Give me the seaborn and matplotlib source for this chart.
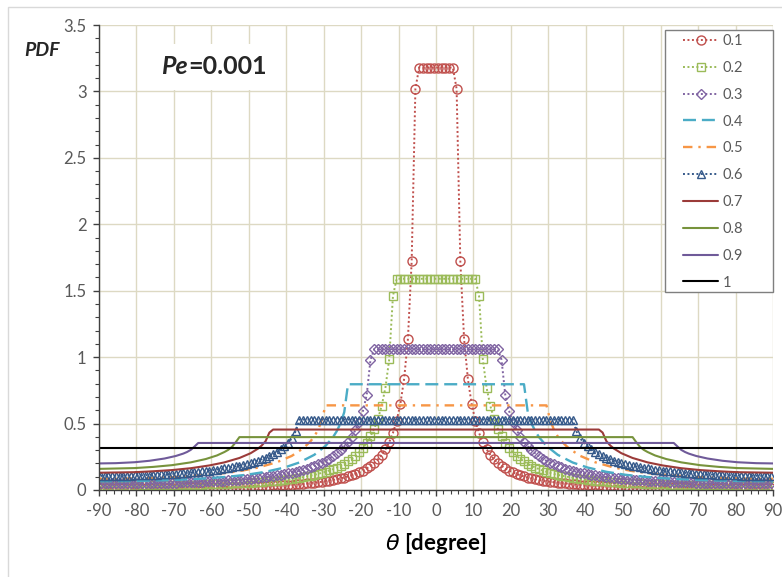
import numpy as np
import pandas as pd
import seaborn as sns
import matplotlib.pyplot as plt
from matplotlib.patches import Rectangle
from matplotlib.ticker import MultipleLocator, FormatStrFormatter

# half profiles (theta >= 0), the chart is symmetric about 0
theta_mk = np.arange(0.5, 90, 1.0)   # sample points of the marker series

pdf_01 = ([3.18] * 5 +
          [3.02, 1.72, 1.137, 0.839, 0.651,
           0.522, 0.429, 0.360, 0.307, 0.265,
           0.231, 0.204, 0.181, 0.162, 0.146,
           0.133, 0.121, 0.111, 0.102, 0.094,
           0.087, 0.081, 0.076, 0.071, 0.066,
           0.062, 0.059, 0.056, 0.053, 0.050,
           0.048, 0.045, 0.043, 0.041, 0.040,
           0.038, 0.037, 0.035, 0.034, 0.033,
           0.031, 0.030, 0.029, 0.029, 0.028,
           0.027, 0.026, 0.025, 0.025, 0.024,
           0.024, 0.023, 0.023, 0.022, 0.022,
           0.021, 0.021, 0.020, 0.020, 0.020,
           0.019, 0.019, 0.019, 0.018, 0.018,
           0.018, 0.018, 0.018, 0.017, 0.017,
           0.017, 0.017, 0.017, 0.017, 0.016,
           0.016, 0.016, 0.016, 0.016, 0.016,
           0.016, 0.016, 0.016, 0.016, 0.016])

pdf_02 = ([1.59] * 11 +
          [1.46, 0.983, 0.771, 0.634,
           0.536, 0.462, 0.403, 0.356, 0.317,
           0.285, 0.258, 0.235, 0.215, 0.197,
           0.182, 0.169, 0.157, 0.147, 0.137,
           0.129, 0.121, 0.114, 0.108, 0.103,
           0.097, 0.093, 0.088, 0.084, 0.081,
           0.077, 0.074, 0.071, 0.069, 0.066,
           0.064, 0.062, 0.060, 0.058, 0.056,
           0.054, 0.053, 0.051, 0.050, 0.049,
           0.048, 0.047, 0.045, 0.044, 0.044,
           0.043, 0.042, 0.041, 0.040, 0.040,
           0.039, 0.038, 0.038, 0.037, 0.037,
           0.036, 0.036, 0.035, 0.035, 0.035,
           0.034, 0.034, 0.034, 0.034, 0.033,
           0.033, 0.033, 0.033, 0.033, 0.033,
           0.032, 0.032, 0.032, 0.032, 0.032])

pdf_03 = ([1.06] * 17 +
          [0.98, 0.716, 0.596,
           0.514, 0.452, 0.402, 0.362, 0.329,
           0.300, 0.276, 0.255, 0.236, 0.220,
           0.205, 0.192, 0.181, 0.170, 0.161,
           0.153, 0.145, 0.138, 0.131, 0.125,
           0.120, 0.115, 0.110, 0.106, 0.102,
           0.098, 0.095, 0.092, 0.089, 0.086,
           0.084, 0.081, 0.079, 0.077, 0.075,
           0.073, 0.071, 0.069, 0.068, 0.066,
           0.065, 0.064, 0.063, 0.061, 0.060,
           0.059, 0.058, 0.058, 0.057, 0.056,
           0.055, 0.055, 0.054, 0.053, 0.053,
           0.052, 0.052, 0.051, 0.051, 0.051,
           0.050, 0.050, 0.050, 0.050, 0.049,
           0.049, 0.049, 0.049, 0.049, 0.049])

pdf_06 = ([0.53] * 37 +
          [0.441, 0.389, 0.354,
           0.328, 0.305, 0.287, 0.271, 0.256,
           0.244, 0.232, 0.222, 0.213, 0.205,
           0.197, 0.190, 0.183, 0.178, 0.172,
           0.167, 0.162, 0.158, 0.154, 0.150,
           0.146, 0.143, 0.140, 0.137, 0.134,
           0.132, 0.129, 0.127, 0.125, 0.123,
           0.121, 0.120, 0.118, 0.117, 0.115,
           0.114, 0.113, 0.112, 0.111, 0.110,
           0.110, 0.109, 0.108, 0.108, 0.107,
           0.107, 0.107, 0.106, 0.106, 0.106])

# line-only series, sparser points
theta_04 = [0, 23.5, 24.5, 25.5, 26.5, 27.5, 29.5, 32.5, 36.5, 40.5, 45.5,
            50.5, 55.5, 60.5, 65.5, 70.5, 75.5, 80.5, 90]
pdf_04 = [0.796, 0.796, 0.586, 0.502, 0.443, 0.398, 0.332, 0.265, 0.207,
          0.169, 0.137, 0.115, 0.100, 0.089, 0.081, 0.075, 0.071, 0.068, 0.066]

theta_05 = [0, 29.5, 30.5, 31.5, 32.5, 33.5, 35.5, 38.5, 42.5, 47.5, 52.5,
            57.5, 62.5, 67.5, 72.5, 77.5, 82.5, 90]
pdf_05 = [0.637, 0.637, 0.527, 0.452, 0.404, 0.367, 0.313, 0.257, 0.209,
          0.169, 0.142, 0.124, 0.111, 0.101, 0.095, 0.090, 0.087, 0.085]

theta_07 = [0, 43.5, 44.5, 45.5, 46.5, 47.5, 49.5, 52.5, 56.5, 60.5, 65.5,
            70.5, 75.5, 80.5, 90]
pdf_07 = [0.455, 0.455, 0.432, 0.368, 0.336, 0.312, 0.277, 0.241, 0.208,
          0.185, 0.164, 0.150, 0.141, 0.134, 0.130]

theta_08 = [0, 52.5, 53.5, 54.5, 55.5, 56.5, 58.5, 61.5, 65.5, 70.5, 75.5,
            80.5, 90]
pdf_08 = [0.398, 0.398, 0.359, 0.324, 0.302, 0.286, 0.260, 0.233, 0.208,
          0.187, 0.174, 0.165, 0.159]

theta_09 = [0, 63.5, 64.5, 65.5, 66.5, 67.5, 69.5, 72.5, 76.5, 80.5, 85.5, 90]
pdf_09 = [0.354, 0.354, 0.327, 0.302, 0.286, 0.274, 0.256, 0.237, 0.220,
          0.209, 0.202, 0.200]

theta_10 = [0, 90]
pdf_10 = [0.318, 0.318]

labels = ['0.1', '0.2', '0.3', '0.4', '0.5', '0.6', '0.7', '0.8', '0.9', '1']


def mirror(t, v):
    t = np.asarray(t, float)
    v = np.asarray(v, float)
    if t[0] == 0:
        return np.r_[-t[:0:-1], t], np.r_[v[:0:-1], v]
    return np.r_[-t[::-1], t], np.r_[v[::-1], v]


dot = (0, (1, 1.3))
series = [
    (theta_mk, pdf_01, dict(color='#C0504D', ls=dot, lw=1.4, marker='o', ms=6.5)),
    (theta_mk, pdf_02, dict(color='#9BBB59', ls=dot, lw=1.4, marker='s', ms=6)),
    (theta_mk, pdf_03, dict(color='#8064A2', ls=dot, lw=1.4, marker='D', ms=5)),
    (theta_04, pdf_04, dict(color='#4BACC6', ls=(0, (5.5, 2.5)), lw=1.7)),
    (theta_05, pdf_05, dict(color='#F79646', ls=(0, (4, 2.5, 1, 2.5)), lw=1.7)),
    (theta_mk, pdf_06, dict(color='#35598A', ls=dot, lw=1.4, marker='^', ms=6)),
    (theta_07, pdf_07, dict(color='#9B3B39', ls='-', lw=1.5)),
    (theta_08, pdf_08, dict(color='#77933C', ls='-', lw=1.5)),
    (theta_09, pdf_09, dict(color='#6F5A99', ls='-', lw=1.5)),
    (theta_10, pdf_10, dict(color='#000000', ls='-', lw=1.5)),
]

sns.set_style('ticks')
plt.rcParams['font.family'] = ['Lato', 'DejaVu Sans']
plt.rcParams['mathtext.fontset'] = 'dejavusans'
plt.rcParams['axes.unicode_minus'] = False

fig = plt.figure(figsize=(7.82, 5.77), dpi=100)
ax = fig.add_axes([99 / 782, 1 - 490 / 577, 674 / 782, 465 / 577])

for (t, v, st), lab in zip(series, labels):
    x, y = mirror(t, v)
    df = pd.DataFrame({'theta': x, 'pdf': y})
    kw = dict(st)
    if 'marker' in kw:
        kw.update(mfc='none', mec=kw['color'], mew=1.0)
    sns.lineplot(data=df, x='theta', y='pdf', ax=ax, estimator=None,
                 sort=False, label=lab, **kw)

ax.set_xlim(-90, 90)
ax.set_ylim(0, 3.5)
ax.xaxis.set_major_locator(MultipleLocator(10))
ax.xaxis.set_minor_locator(MultipleLocator(2))
ax.yaxis.set_major_locator(MultipleLocator(0.5))
ax.yaxis.set_minor_locator(MultipleLocator(0.1))
ax.yaxis.set_major_formatter(FormatStrFormatter('%g'))
ax.grid(True, which='major', color='#DDD9C3', lw=1)
ax.set_axisbelow(True)
for s in ['top', 'right']:
    ax.spines[s].set_visible(False)
for s in ['left', 'bottom']:
    ax.spines[s].set_color('#404040')
    ax.spines[s].set_linewidth(1)
ax.tick_params(which='major', length=4, width=1, color='#404040',
               labelsize=12, labelcolor='#595959', pad=5)
ax.tick_params(which='minor', length=3, width=0.8, color='#404040')
ax.set_ylabel('')
ax.set_xlabel(r'$\theta$ [degree]', fontsize=16, fontweight='bold',
              labelpad=9, color='black')

fig.text(42 / 782, 1 - 50 / 577, 'PDF', fontsize=14, fontweight='bold',
         fontstyle='italic', ha='center', va='center')

# white box behind the Pe label
ax.add_patch(Rectangle((0.076, 0.86), 0.195, 0.1, transform=ax.transAxes,
                       facecolor='white', edgecolor='none', zorder=1))
ax.text(0.132, 0.91, 'Pe', transform=ax.transAxes, fontsize=18,
        fontweight='bold', fontstyle='italic', ha='right', va='center', zorder=2)
ax.text(0.132, 0.91, '=0.001', transform=ax.transAxes, fontsize=18,
        fontweight='bold', ha='left', va='center', zorder=2)

# legend box
ax.add_patch(Rectangle((566 / 674, 198 / 465), 108 / 674, 262 / 465,
                       transform=ax.transAxes, facecolor='white',
                       edgecolor='#7F7F7F', lw=1, zorder=4, clip_on=False))
leg = ax.legend(loc='upper left', bbox_to_anchor=(584 / 674, 456 / 465),
                frameon=False, borderpad=0, borderaxespad=0,
                handlelength=2.4, handletextpad=0.3, labelspacing=0.88,
                fontsize=10.5)
leg.set_zorder(5)
for txt in leg.get_texts():
    txt.set_color('#595959')

# chart border
fig.patches.append(Rectangle((8 / 782, -0.1), 1.2, 1.1 - 7 / 577,
                             transform=fig.transFigure, fill=False,
                             edgecolor='#D9D9D9', lw=1))

fig.savefig('out.png', dpi=100, facecolor='white')
